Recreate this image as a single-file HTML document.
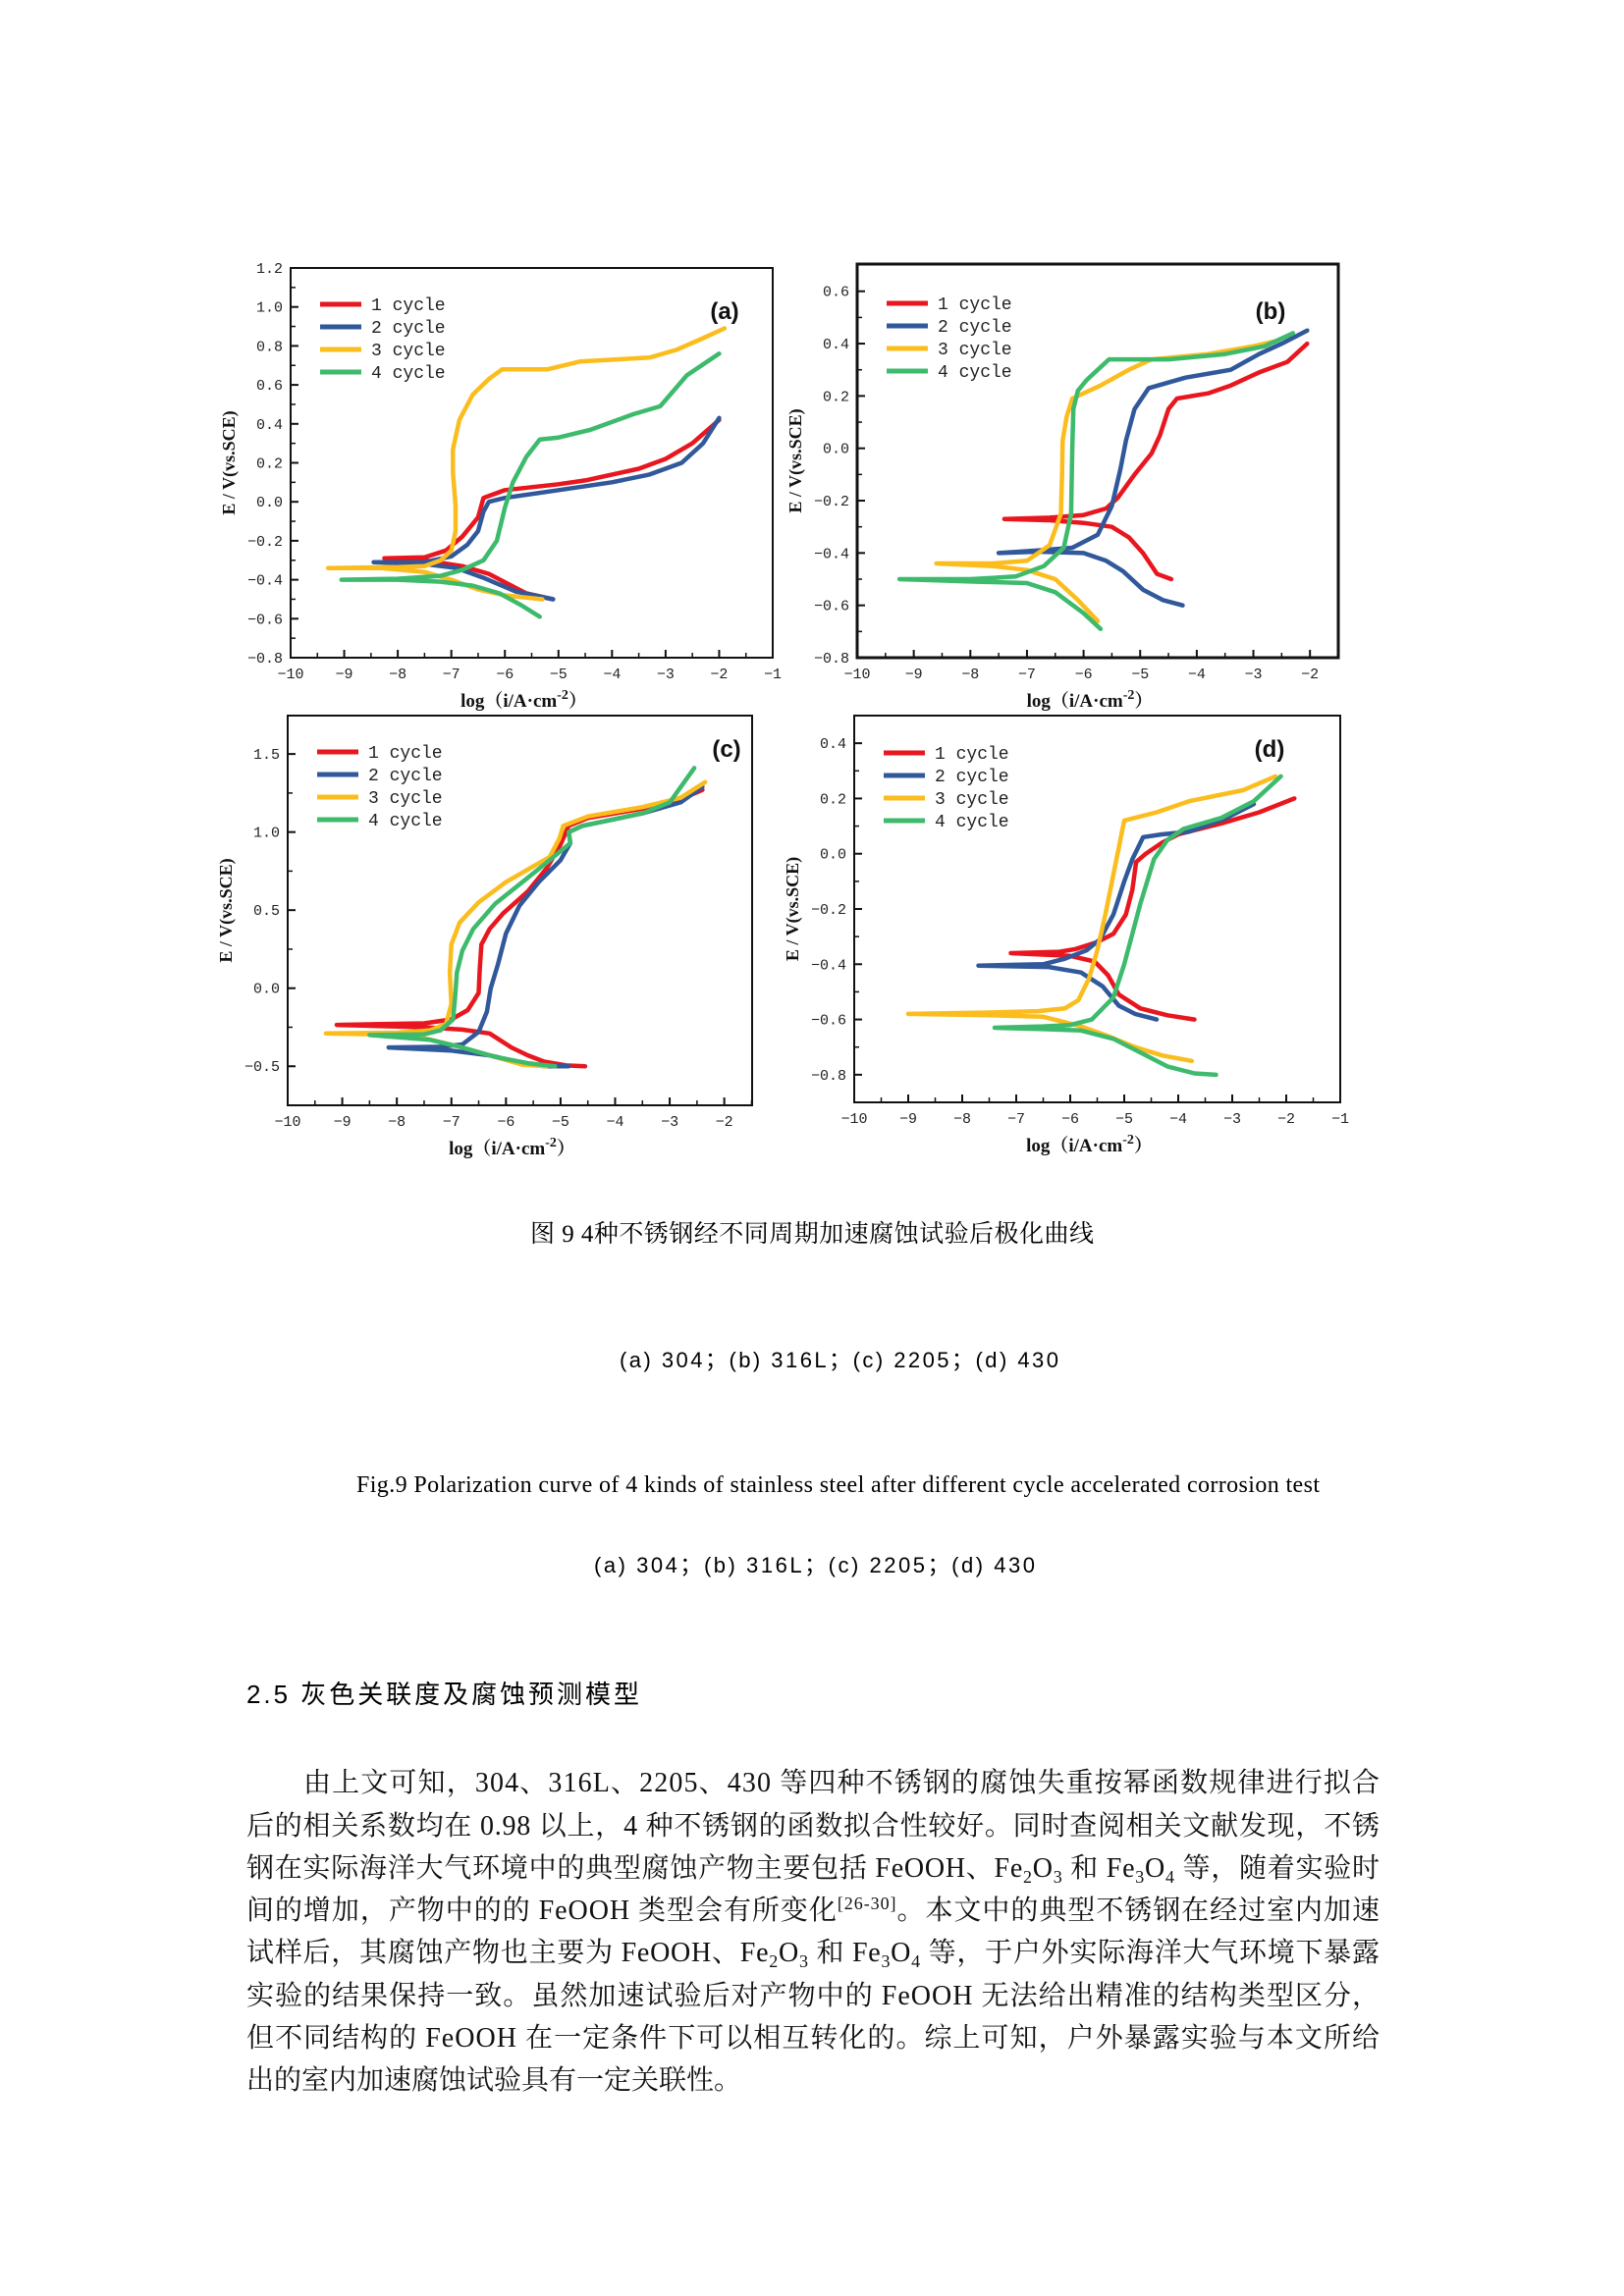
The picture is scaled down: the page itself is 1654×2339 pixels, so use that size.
<!DOCTYPE html>
<html><head><meta charset="utf-8"><style>
html,body{margin:0;padding:0;background:#fff;}
#page{position:relative;width:1654px;height:2339px;overflow:hidden;background:#fff;}
svg{position:absolute;left:0;top:0;}
.cn{font-family:"Liberation Serif","Noto Serif CJK SC","Noto Sans CJK SC",serif;}
.tick{font-family:"Liberation Mono","Noto Sans CJK SC",monospace;font-size:15px;fill:#222;}
</style></head><body>
<div id="page">
<svg id="charts" width="1654" height="2339" viewBox="0 0 1654 2339"></svg>
<svg width="1654" height="2339" viewBox="0 0 1654 2339">
<text x="540" y="1265" font-size="25" textLength="574" class="cn" font-family="Liberation Sans, Noto Sans CJK SC, sans-serif">图 9  4种不锈钢经不同周期加速腐蚀试验后极化曲线</text>
<text x="631" y="1393" font-size="22" textLength="447" font-family="Liberation Sans, Noto Sans CJK SC, sans-serif">(a) 304；(b) 316L；(c) 2205；(d) 430</text>
<text x="363" y="1520" font-size="24" textLength="981" font-family="Liberation Serif, serif">Fig.9 Polarization curve of 4 kinds of stainless steel after different cycle accelerated corrosion test</text>
<text x="605" y="1602" font-size="22" textLength="449" font-family="Liberation Sans, Noto Sans CJK SC, sans-serif">(a) 304；(b) 316L；(c) 2205；(d) 430</text>
<text x="251" y="1735" font-size="26" textLength="400" font-family="Liberation Sans, Noto Sans CJK SC, sans-serif">2.5 灰色关联度及腐蚀预测模型</text>
<g class="cn" font-size="28" fill="#111">
<text x="309" y="1825" textLength="1096">由上文可知，304、316L、2205、430 等四种不锈钢的腐蚀失重按幂函数规律进行拟合</text>
<text x="251" y="1869" textLength="1154">后的相关系数均在 0.98 以上，4 种不锈钢的函数拟合性较好。同时查阅相关文献发现，不锈</text>
<text x="251" y="1912" textLength="1154">钢在实际海洋大气环境中的典型腐蚀产物主要包括 FeOOH、Fe<tspan dy="6" font-size="18">2</tspan><tspan dy="-6">O</tspan><tspan dy="6" font-size="18">3</tspan><tspan dy="-6"> 和 Fe</tspan><tspan dy="6" font-size="18">3</tspan><tspan dy="-6">O</tspan><tspan dy="6" font-size="18">4</tspan><tspan dy="-6"> 等，随着实验时</tspan></text>
<text x="251" y="1955" textLength="1154">间的增加，产物中的的 FeOOH 类型会有所变化<tspan dy="-10" font-size="18">[26-30]</tspan><tspan dy="10">。本文中的典型不锈钢在经过室内加速</tspan></text>
<text x="251" y="1998" textLength="1154">试样后，其腐蚀产物也主要为 FeOOH、Fe<tspan dy="6" font-size="18">2</tspan><tspan dy="-6">O</tspan><tspan dy="6" font-size="18">3</tspan><tspan dy="-6"> 和 Fe</tspan><tspan dy="6" font-size="18">3</tspan><tspan dy="-6">O</tspan><tspan dy="6" font-size="18">4</tspan><tspan dy="-6"> 等，于户外实际海洋大气环境下暴露</tspan></text>
<text x="251" y="2042" textLength="1154">实验的结果保持一致。虽然加速试验后对产物中的 FeOOH 无法给出精准的结构类型区分，</text>
<text x="251" y="2085" textLength="1154">但不同结构的 FeOOH 在一定条件下可以相互转化的。综上可知，户外暴露实验与本文所给</text>
<text x="251" y="2128">出的室内加速腐蚀试验具有一定关联性。</text>
</g>
</svg>
</div>
<script>
// ---- data: [log i, E] pairs ----
const legendLabels = ["1 cycle","2 cycle","3 cycle","4 cycle"];
const seriesColors = ["#e8161e","#30589a","#fbbd1e","#3dba6c"];

const a1 = [[-5.1,-0.50],[-5.6,-0.47],[-6.3,-0.37],[-6.8,-0.33],[-7.5,-0.30],[-8.25,-0.29],[-7.5,-0.285],[-7.1,-0.25],[-6.8,-0.18],[-6.5,-0.08],[-6.4,0.02],[-6.0,0.06],[-5.0,0.09],[-4.5,0.11],[-3.5,0.17],[-3.0,0.22],[-2.5,0.30],[-2.0,0.42]];
const a2 = [[-5.1,-0.50],[-5.8,-0.46],[-6.4,-0.39],[-6.9,-0.34],[-7.5,-0.32],[-8.45,-0.31],[-7.5,-0.31],[-7.0,-0.28],[-6.7,-0.22],[-6.5,-0.15],[-6.4,-0.05],[-6.3,0.0],[-6.0,0.02],[-5.0,0.06],[-4.0,0.10],[-3.3,0.14],[-2.7,0.20],[-2.3,0.30],[-2.0,0.43]];
const a3 = [[-5.3,-0.50],[-6.0,-0.48],[-6.5,-0.45],[-7.0,-0.40],[-7.5,-0.36],[-8.3,-0.34],[-9.3,-0.34],[-8.0,-0.335],[-7.5,-0.33],[-7.2,-0.30],[-7.0,-0.25],[-6.92,-0.15],[-6.92,-0.02],[-6.97,0.15],[-6.97,0.27],[-6.85,0.42],[-6.6,0.55],[-6.3,0.63],[-6.05,0.68],[-5.2,0.68],[-4.6,0.72],[-3.3,0.74],[-2.8,0.78],[-2.3,0.84],[-1.9,0.89]];
const a4 = [[-5.35,-0.59],[-5.7,-0.53],[-6.1,-0.47],[-6.6,-0.43],[-7.2,-0.41],[-8.0,-0.40],[-9.05,-0.40],[-8.0,-0.395],[-7.2,-0.38],[-6.8,-0.35],[-6.4,-0.30],[-6.15,-0.20],[-6.0,-0.03],[-5.85,0.10],[-5.6,0.23],[-5.35,0.32],[-5.0,0.33],[-4.4,0.37],[-3.6,0.45],[-3.1,0.49],[-2.6,0.65],[-2.0,0.76]];

const b1 = [[-4.45,-0.50],[-4.7,-0.48],[-4.95,-0.40],[-5.2,-0.34],[-5.5,-0.30],[-6.0,-0.285],[-6.6,-0.275],[-7.4,-0.27],[-6.6,-0.265],[-6.0,-0.255],[-5.6,-0.23],[-5.4,-0.19],[-5.1,-0.10],[-4.8,-0.02],[-4.65,0.05],[-4.5,0.15],[-4.35,0.19],[-3.8,0.21],[-3.4,0.24],[-2.9,0.29],[-2.4,0.33],[-2.05,0.40]];
const b2 = [[-4.25,-0.60],[-4.6,-0.58],[-4.95,-0.54],[-5.3,-0.47],[-5.6,-0.43],[-6.0,-0.40],[-6.8,-0.395],[-7.5,-0.40],[-6.8,-0.39],[-6.2,-0.38],[-5.75,-0.33],[-5.5,-0.22],[-5.35,-0.08],[-5.25,0.03],[-5.1,0.15],[-4.85,0.23],[-4.2,0.27],[-3.4,0.30],[-2.9,0.36],[-2.5,0.40],[-2.05,0.45]];
const b3 = [[-5.75,-0.66],[-6.1,-0.58],[-6.5,-0.50],[-7.0,-0.465],[-7.6,-0.45],[-8.6,-0.44],[-7.6,-0.44],[-7.0,-0.43],[-6.6,-0.37],[-6.4,-0.25],[-6.38,-0.10],[-6.37,0.03],[-6.3,0.12],[-6.2,0.19],[-5.7,0.24],[-5.2,0.30],[-4.8,0.34],[-3.8,0.36],[-3.0,0.39],[-2.6,0.41]];
const b4 = [[-5.7,-0.69],[-6.0,-0.63],[-6.5,-0.55],[-7.0,-0.515],[-7.8,-0.51],[-9.25,-0.50],[-8.0,-0.50],[-7.2,-0.49],[-6.7,-0.45],[-6.35,-0.38],[-6.22,-0.25],[-6.2,0.0],[-6.18,0.15],[-6.1,0.22],[-5.95,0.26],[-5.75,0.30],[-5.55,0.34],[-4.5,0.34],[-3.5,0.36],[-2.8,0.39],[-2.3,0.44]];

const c1 = [[-4.55,-0.50],[-4.9,-0.495],[-5.3,-0.47],[-5.6,-0.43],[-5.9,-0.38],[-6.3,-0.29],[-6.8,-0.265],[-7.5,-0.25],[-9.1,-0.235],[-7.5,-0.225],[-7.0,-0.20],[-6.7,-0.14],[-6.5,-0.03],[-6.48,0.12],[-6.45,0.28],[-6.3,0.38],[-6.05,0.48],[-5.6,0.62],[-5.25,0.77],[-5.0,0.92],[-4.85,1.04],[-4.5,1.09],[-3.5,1.15],[-2.8,1.21],[-2.4,1.27]];
const c2 = [[-4.85,-0.50],[-5.3,-0.50],[-5.8,-0.47],[-6.3,-0.43],[-7.0,-0.40],[-8.15,-0.38],[-7.2,-0.375],[-6.8,-0.36],[-6.5,-0.28],[-6.35,-0.15],[-6.28,0.0],[-6.15,0.15],[-6.0,0.35],[-5.75,0.53],[-5.4,0.68],[-5.0,0.82],[-4.82,0.93],[-4.85,1.0],[-4.6,1.04],[-3.5,1.12],[-2.8,1.19],[-2.4,1.29]];
const c3 = [[-5.25,-0.50],[-5.7,-0.49],[-6.3,-0.43],[-6.8,-0.38],[-7.5,-0.32],[-8.5,-0.295],[-9.3,-0.29],[-8.0,-0.285],[-7.4,-0.27],[-7.1,-0.23],[-7.0,-0.10],[-7.03,0.10],[-7.0,0.28],[-6.85,0.42],[-6.5,0.55],[-6.0,0.68],[-5.5,0.78],[-5.2,0.84],[-5.02,0.96],[-4.95,1.04],[-4.5,1.10],[-3.5,1.16],[-2.8,1.22],[-2.35,1.32]];
const c4 = [[-5.1,-0.50],[-5.6,-0.48],[-6.2,-0.44],[-6.8,-0.38],[-7.4,-0.33],[-8.5,-0.30],[-7.5,-0.295],[-7.2,-0.27],[-6.97,-0.20],[-6.93,-0.05],[-6.9,0.10],[-6.8,0.24],[-6.6,0.38],[-6.2,0.54],[-5.7,0.68],[-5.2,0.82],[-4.82,0.93],[-4.85,1.0],[-4.6,1.04],[-3.5,1.12],[-3.0,1.19],[-2.55,1.41]];

const d1 = [[-3.7,-0.60],[-4.2,-0.585],[-4.7,-0.56],[-5.1,-0.51],[-5.3,-0.44],[-5.55,-0.39],[-6.0,-0.37],[-7.1,-0.36],[-6.2,-0.355],[-5.9,-0.345],[-5.5,-0.32],[-5.2,-0.29],[-4.97,-0.22],[-4.85,-0.13],[-4.78,-0.03],[-4.6,0.00],[-4.3,0.04],[-4.0,0.07],[-3.2,0.11],[-2.5,0.15],[-1.85,0.20]];
const d2 = [[-4.4,-0.60],[-4.8,-0.58],[-5.1,-0.55],[-5.4,-0.48],[-5.8,-0.43],[-6.4,-0.41],[-7.7,-0.405],[-6.5,-0.40],[-6.1,-0.38],[-5.7,-0.35],[-5.45,-0.31],[-5.2,-0.22],[-5.0,-0.10],[-4.85,-0.02],[-4.65,0.06],[-4.3,0.07],[-3.8,0.08],[-3.1,0.13],[-2.6,0.18]];
const d3 = [[-3.75,-0.75],[-4.3,-0.73],[-4.8,-0.70],[-5.3,-0.66],[-5.8,-0.625],[-6.5,-0.59],[-7.5,-0.585],[-9.0,-0.58],[-7.5,-0.575],[-6.6,-0.57],[-6.1,-0.56],[-5.85,-0.53],[-5.65,-0.45],[-5.5,-0.35],[-5.35,-0.22],[-5.0,0.12],[-4.4,0.15],[-3.8,0.19],[-2.8,0.23],[-2.2,0.28]];
const d4 = [[-3.3,-0.80],[-3.7,-0.795],[-4.2,-0.77],[-4.7,-0.72],[-5.2,-0.67],[-5.8,-0.64],[-6.5,-0.635],[-7.4,-0.63],[-6.5,-0.625],[-6.0,-0.62],[-5.6,-0.60],[-5.2,-0.52],[-5.0,-0.40],[-4.7,-0.18],[-4.45,-0.02],[-4.2,0.05],[-3.9,0.09],[-3.2,0.13],[-2.6,0.19],[-2.1,0.28]];

const aXTicks = [-10,-9,-8,-7,-6,-5,-4,-3,-2,-1];
const aYTicks = [1.2,1.0,0.8,0.6,0.4,0.2,0.0,-0.2,-0.4,-0.6,-0.8];
const bXTicks = [-10,-9,-8,-7,-6,-5,-4,-3,-2];
const bYTicks = [0.6,0.4,0.2,0.0,-0.2,-0.4,-0.6,-0.8];
const cXTicks = [-10,-9,-8,-7,-6,-5,-4,-3,-2];
const cYTicks = [1.5,1.0,0.5,0.0,-0.5];
const dXTicks = [-10,-9,-8,-7,-6,-5,-4,-3,-2,-1];
const dYTicks = [0.4,0.2,0.0,-0.2,-0.4,-0.6,-0.8];

const NS = "http://www.w3.org/2000/svg";
const root = document.getElementById("charts");
function mk(tag, attrs, parent){
  const e = document.createElementNS(NS, tag);
  for (const k in attrs) e.setAttribute(k, attrs[k]);
  parent.appendChild(e);
  return e;
}

function drawPanel(p){
  const g = mk("g", {}, root);
  
  
  const sx = v => p.L + (v - p.x0) / (p.x1 - p.x0) * (p.R - p.L);
  const sy = v => p.T + (p.y1 - v) / (p.y1 - p.y0) * (p.B - p.T);
  // series
  p.series.forEach((s, i) => {
    const d = s.map((pt, j) => (j ? "L" : "M") + sx(pt[0]).toFixed(1) + " " + sy(pt[1]).toFixed(1)).join(" ");
    const path = mk("path", {d: d, fill: "none", stroke: seriesColors[i], "stroke-width": 4.5, "stroke-linejoin": "round", "stroke-linecap": "round"}, g);
    
    
  });
  // frame
  const fr = mk("rect", {x: p.L, y: p.T, width: p.R - p.L, height: p.B - p.T, fill: "none", stroke: "#111", "stroke-width": p.fw}, g);
  
  
  // x ticks
  p.xt.forEach(v => {
    const x = sx(v);
    mk("line", {x1: x, x2: x, y1: p.B, y2: p.B - 8, stroke: "#111", "stroke-width": 2}, g);
    if (v + 0.5 < p.x1) { const xm = sx(v + 0.5); mk("line", {x1: xm, x2: xm, y1: p.B, y2: p.B - 5, stroke: "#111", "stroke-width": 1.5}, g); }
    const t = mk("text", {x: x, y: p.B + 21, "text-anchor": "middle", class: "tick"}, g);
    t.textContent = String(v).replace("-", "\u2212");
    
    
  });
  // y ticks
  p.yt.forEach((v, k) => {
    const y = sy(v);
    mk("line", {x1: p.L, x2: p.L + 8, y1: y, y2: y, stroke: "#111", "stroke-width": 2}, g);
    if (k < p.yt.length - 1) { const ym = sy((v + p.yt[k + 1]) / 2); mk("line", {x1: p.L, x2: p.L + 5, y1: ym, y2: ym, stroke: "#111", "stroke-width": 1.5}, g); }
    const t = mk("text", {x: p.L - 8, y: y + 5, "text-anchor": "end", class: "tick"}, g);
    t.textContent = v.toFixed(1).replace("-", "\u2212");
    
    
  });
  // axis titles
  const xt = mk("text", {x: (p.L + p.R) / 2 - 8, y: p.B + 50, "text-anchor": "middle", "font-family": "Liberation Serif, Noto Serif CJK SC, serif", "font-weight": "bold", "font-size": 19, fill: "#111"}, g);
  xt.innerHTML = 'log（i/A·cm<tspan dy="-8" font-size="14">-2</tspan><tspan dy="8">）</tspan>';
  
  
  const cy = (p.T + p.B) / 2;
  const yt = mk("text", {x: p.L - 57, y: cy, transform: "rotate(-90 " + (p.L - 57) + " " + cy + ")", "text-anchor": "middle", "font-family": "Liberation Serif, serif", "font-weight": "bold", "font-size": 18, fill: "#111"}, g);
  yt.textContent = "E / V(vs.SCE)";
  
  
  // legend
  legendLabels.forEach((lab, i) => {
    const ly = p.T + p.legY + i * 23;
    const ln = mk("line", {x1: p.L + 30, x2: p.L + 72, y1: ly, y2: ly, stroke: seriesColors[i], "stroke-width": 5}, g);
    
    
    const t = mk("text", {x: p.L + 82, y: ly + 6, "font-family": "Liberation Mono, monospace", "font-size": 18, fill: "#222"}, g);
    t.textContent = lab;
    
    
  });
  const pl = mk("text", {x: p.labX, y: p.T + p.labY, "font-family": "Liberation Sans, sans-serif", "font-weight": "bold", "font-size": 24, fill: "#111", "text-anchor": "middle"}, g);
  pl.textContent = "(" + p.id + ")";
  
  
}

drawPanel({id:"a", L:296, R:787, T:273, B:670, x0:-10, x1:-1, y0:-0.8, y1:1.2, fw:2, xt:aXTicks, yt:aYTicks, series:[a1,a2,a3,a4], legY:37, labX:738, labY:52});
drawPanel({id:"b", L:873, R:1363, T:269, B:670, x0:-10, x1:-1.5, y0:-0.8, y1:0.704, fw:3, xt:bXTicks, yt:bYTicks, series:[b1,b2,b3,b4], legY:40, labX:1294, labY:56});
drawPanel({id:"c", L:293, R:766, T:729, B:1126, x0:-10, x1:-1.49, y0:-0.75, y1:1.746, fw:2, xt:cXTicks, yt:cYTicks, series:[c1,c2,c3,c4], legY:37, labX:740, labY:42});
drawPanel({id:"d", L:870, R:1365, T:729, B:1123, x0:-10, x1:-1, y0:-0.9, y1:0.5, fw:2, xt:dXTicks, yt:dYTicks, series:[d1,d2,d3,d4], legY:38, labX:1293, labY:42});
</script>
</body></html>
